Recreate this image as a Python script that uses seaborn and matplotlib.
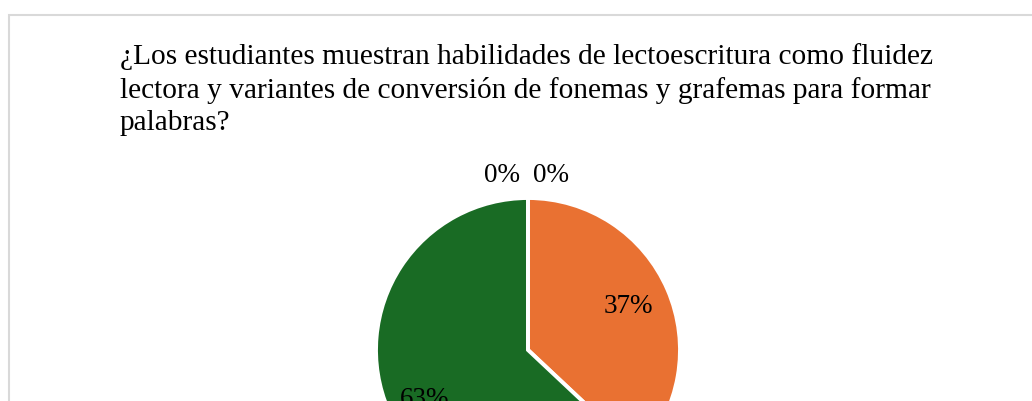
import numpy as np
import seaborn as sns
import matplotlib.pyplot as plt
from matplotlib.patches import Rectangle

# datos del grafico
categorias = ["Siempre", "Casi siempre", "A veces", "Nunca"]
porcentajes = [0, 37, 63, 0]
colores = ["#156082", "#E97132", "#196B24", "#0F9ED5"]
titulo = ["¿Los estudiantes muestran habilidades de lectoescritura como fluidez",
          "lectora y variantes de conversión de fonemas y grafemas para formar",
          "palabras?"]

sns.set_theme(style="white")
plt.rcParams['font.family'] = ['Liberation Serif', 'DejaVu Serif']
plt.rcParams['text.color'] = 'black'

W, H = 1032, 401
fig = plt.figure(figsize=(W / 100, H / 100), dpi=100)
ax = fig.add_axes([0, 0, 1, 1])

# centro y radio en pixeles (eje y hacia arriba)
cx, cy, r = 528, H - 350, 152

wedges, _ = ax.pie(porcentajes, colors=sns.color_palette(colores), startangle=90,
                   counterclock=False, center=(cx, cy), radius=r,
                   wedgeprops=dict(edgecolor="white", linewidth=2.8))

# etiquetas de porcentaje
ceros = 0
for w, v in zip(wedges, porcentajes):
    if v == 0:
        if ceros == 0:
            ax.text(cx + 5, cy + 1.15 * r, f"{v}%", ha="left", va="center", fontsize=19.5)
        else:
            ax.text(cx - 8, cy + 1.15 * r, f"{v}%", ha="right", va="center", fontsize=19.5)
        ceros += 1
        continue
    ang = np.deg2rad((w.theta1 + w.theta2) / 2)
    d = 0.72 if v < 50 else 0.76
    ax.text(cx + d * r * np.cos(ang) + (3 if v > 50 else 0), cy + d * r * np.sin(ang) - (4 if v > 50 else 0),
            f"{v}%", ha="center", va="center", fontsize=19.5)

# titulo
for i, linea in enumerate(titulo):
    ax.text(120, H - 64.5 - i * 33, linea, ha="left", va="baseline", fontsize=21.2)

# borde del area del grafico
ax.add_patch(Rectangle((9, -100), 3000, H - 15 + 100, fill=False,
                       edgecolor="#D9D9D9", linewidth=1.5))

ax.set_xlim(0, W)
ax.set_ylim(0, H)
ax.set_aspect("auto")
ax.axis("off")

fig.savefig("out.png", dpi=100, facecolor="white")
